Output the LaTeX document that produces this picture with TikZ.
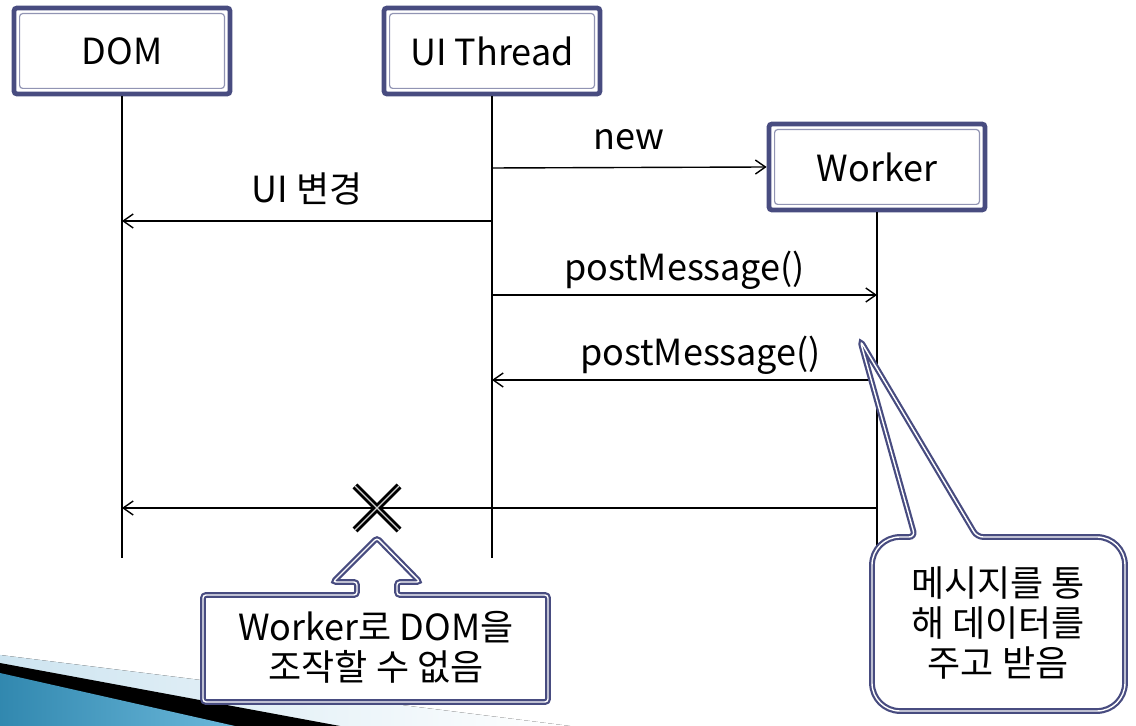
\documentclass[tikz,border=0pt]{standalone}
\usepackage{fontspec}
\setmainfont{Noto Sans CJK KR}
\usetikzlibrary{arrows.meta}

\definecolor{boxnavy}{RGB}{72,76,128}
\definecolor{swooshblue}{RGB}{58,160,206}
\definecolor{swooshpale}{RGB}{205,228,240}

\tikzset{
  head/.style={draw=boxnavy, line width=2.4pt, rounded corners=1.5pt, fill=white,
    minimum width=108pt, minimum height=43pt,
    path picture={\draw[boxnavy!60, line width=0.6pt]
      ([shift={(2.8pt,-2.8pt)}]path picture bounding box.north west) rectangle
      ([shift={(-2.8pt,2.8pt)}]path picture bounding box.south east);}},
  life/.style={line width=0.7pt},
  msg/.style={line width=0.7pt, -{Straight Barb[length=5pt,width=7pt]}},
  lbl/.style={midway, anchor=base, yshift=7pt},
  callout/.style={draw=boxnavy, fill=white, line width=1.1pt, double=white, double distance=0.7pt},
  xmark/.style={draw=black, line width=1.4pt, double=gray!35, double distance=0.6pt}
}

\begin{document}
\begin{tikzpicture}[x=0.5pt, y=-0.5pt, font=\fontsize{18}{20}\selectfont]
\useasboundingbox (0,0) rectangle (1136,726);

% slide swoosh
\fill[left color=swooshpale, right color=white] (0,655) -- (570,726) -- (0,726) -- cycle;
\fill[black] (0,663) -- (340,726) -- (0,726) -- cycle;
\fill[left color=swooshblue!85!black, right color=swooshblue!75!white]
  (0,673) -- (235,726) -- (0,726) -- cycle;

% heads and lifelines
\node[head] (dom) at (122,51) {DOM};
\node[head] (ui) at (492,51) {UI Thread};
\node[head] (wk) at (877,167) {Worker};

\foreach \n in {dom,ui,wk}
  \draw[life] (\n.south) -- (\n.south |- 0,558);

% messages
\coordinate (new0) at (ui.south |- 0,168);
\draw[msg] (new0) -- (wk.west) node[lbl, yshift=2pt] {new};

\coordinate (chg0) at (ui.south |- 0,221);
\coordinate (chg1) at (dom.south |- 0,221);
\draw[msg] (chg0) -- (chg1) node[lbl, yshift=2pt] {UI 변경};

\coordinate (post0) at (ui.south |- 0,295);
\coordinate (post1) at (wk.south |- 0,295);
\draw[msg] (post0) -- (post1) node[lbl] {postMessage()};

\coordinate (back0) at (wk.south |- 0,380);
\coordinate (back1) at (ui.south |- 0,380);
\draw[msg] (back0) -- (back1) node[lbl, xshift=8pt] {postMessage()};

\coordinate (dir0) at (wk.south |- 0,508);
\coordinate (dir1) at (dom.south |- 0,508);
\draw[msg] (dir0) -- (dir1);

\coordinate (cross) at (377,508);
\draw[xmark] ([shift={(-22,-22)}]cross) -- ([shift={(22,22)}]cross)
  ([shift={(-22,22)}]cross) -- ([shift={(22,-22)}]cross);

% callouts
\draw[callout, rounded corners=1.5pt]
  (203,595) -- (357,595) -- (357,582) -- (333,582) -- (377,538) -- (420,582)
  -- (397,582) -- (397,595) -- (548,595) -- (548,702) -- (203,702) -- cycle;
\node[align=center] (note1) at (376,647) {Worker로 DOM을\\조작할 수 없음};

\draw[callout] (872,620) [rounded corners=14pt] -- (872,537)
  [rounded corners=3pt] -- (915,537) -- (860,340) -- (977,537)
  [rounded corners=14pt] -- (1125,537) -- (1125,711) -- (872,711) -- cycle;
\node[align=center] (note2) at (998,623) {메시지를 통\\해 데이터를\\주고 받음};
\end{tikzpicture}
\end{document}
